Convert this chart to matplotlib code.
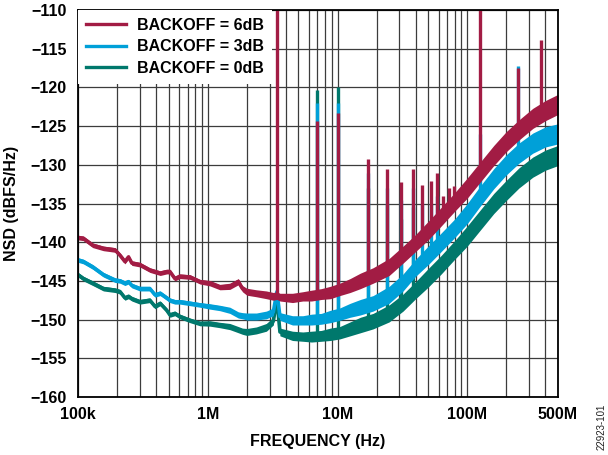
import numpy as np
import matplotlib.pyplot as plt

plt.rcParams['font.family'] = ['Liberation Sans', 'DejaVu Sans']
plt.rcParams['font.weight'] = 'bold'

# noise floor (Hz, dBFS/Hz)
freq = [100e3, 110e3, 130e3, 157e3, 193e3, 211e3, 230e3, 245e3, 260e3, 300e3,
        358e3, 392e3, 430e3, 483e3, 511e3, 558e3, 610e3, 730e3, 870e3, 1.04e6,
        1.24e6, 1.48e6, 1.72e6, 1.85e6, 2.0e6, 2.37e6, 2.83e6, 3.2e6, 3.41e6, 3.6e6,
        4.5e6, 5.4e6, 6.3e6, 7.5e6, 8.8e6, 10.4e6, 12.5e6, 15e6, 18.8e6, 25e6,
        32e6, 40e6, 50e6, 63e6, 80e6, 100e6, 125e6, 160e6, 200e6, 250e6,
        320e6, 400e6, 500e6]

nsd_6db = [-139.4, -139.5, -140.4, -140.8, -141.0, -141.7, -142.5, -141.9, -142.7, -142.9,
           -143.6, -143.8, -144.0, -143.8, -143.8, -144.7, -144.4, -144.5, -145.1, -145.3,
           -145.8, -145.7, -145.1, -146.0, -146.4, -146.6, -146.8, -147.0, -146.9, -147.1,
           -147.2, -147.0, -146.9, -146.7, -146.5, -146.1, -145.6, -145.0, -144.3, -143.2,
           -141.6, -140.1, -138.5, -136.7, -134.8, -133.0, -131.0, -128.8, -127.0, -125.5,
           -124.0, -123.0, -122.2]

nsd_3db = [-142.3, -142.5, -143.2, -144.2, -144.9, -145.0, -145.3, -145.1, -145.6, -146.0,
           -146.0, -146.8, -146.6, -147.2, -147.5, -147.7, -147.7, -147.9, -148.1, -148.3,
           -148.5, -148.8, -149.4, -149.5, -149.6, -149.6, -149.4, -149.0, -146.4, -149.6,
           -150.1, -150.1, -150.0, -149.9, -149.6, -149.3, -148.8, -148.4, -147.9, -146.8,
           -145.2, -143.3, -141.7, -140.0, -138.2, -136.3, -134.1, -131.8, -130.0, -128.5,
           -127.2, -126.4, -126.0]

nsd_0db = [-144.2, -144.7, -145.3, -146.0, -146.2, -146.4, -147.2, -147.0, -147.3, -147.7,
           -147.5, -148.3, -147.9, -148.8, -149.4, -149.2, -149.6, -150.1, -150.5, -150.5,
           -150.7, -150.9, -151.3, -151.5, -151.6, -151.4, -151.0, -150.2, -147.3, -151.6,
           -152.1, -152.2, -152.2, -152.1, -151.9, -151.7, -151.2, -150.7, -150.2, -149.2,
           -147.8, -146.2, -144.6, -142.9, -141.0, -139.2, -137.2, -135.0, -133.3, -131.7,
           -130.3, -129.4, -128.8]

# half height of the noise band around each trace (dB)
spread = [0.3, 0.3, 0.3, 0.3, 0.3, 0.3, 0.3, 0.3, 0.3, 0.3,
          0.3, 0.3, 0.3, 0.3, 0.3, 0.3, 0.3, 0.3, 0.3, 0.35,
          0.35, 0.4, 0.4, 0.4, 0.45, 0.45, 0.5, 0.5, 0.5, 0.5,
          0.6, 0.6, 0.7, 0.7, 0.8, 0.8, 0.9, 1.0, 1.0, 1.1,
          1.1, 1.1, 1.2, 1.2, 1.2, 1.3, 1.3, 1.3, 1.3, 1.3,
          1.3, 1.3, 1.3]

# spurs: frequency (Hz) and peak level for each backoff (nan = hidden)
spur_freq = [3.41e6, 6.9e6, 10.1e6, 17.2e6, 23.9e6, 30.8e6, 37.9e6, 44.4e6, 52.1e6,
             58.7e6, 65.3e6, 72e6, 78.8e6, 125e6, 247e6, 373e6]
spur_6db = [-100, -124.4, -123.3, -129.2, -130.6, -132.2, -130.6, -132.6, -132.1,
            -131.1, -134.0, -133.0, -132.7, -100, -117.5, -113.9]
spur_3db = [np.nan, -122.0, -122.0, -131.0, -133.0, -134.5, -133.0, -135.0, -135.0,
            -134.0, np.nan, np.nan, np.nan, -126.0, -117.2, np.nan]
spur_0db = [np.nan, -120.4, -120.0, -133.0, -135.0, -137.0, -135.5, np.nan, np.nan,
            np.nan, np.nan, np.nan, np.nan, np.nan, np.nan, np.nan]

labels = ['BACKOFF = 6dB', 'BACKOFF = 3dB', 'BACKOFF = 0dB']
colors = ['#A21C44', '#00A0D8', '#00786C']

fig = plt.figure(figsize=(6.08, 4.55), dpi=100)
ax = fig.add_axes([78 / 608, 1 - 397 / 455, 480 / 608, 387 / 455])

f = np.array(freq)
sp = np.array(spread)
series = [nsd_6db, nsd_3db, nsd_0db]
spurs = [spur_6db, spur_3db, spur_0db]

# draw 0dB first so 6dB ends up on top
handles = [None] * 3
for i in [2, 1, 0]:
    v = np.array(series[i])
    ax.fill_between(f, v - sp, v + sp, color=colors[i], lw=0, zorder=3)
    handles[i], = ax.plot(f, v, color=colors[i], lw=2.6, label=labels[i], zorder=3)
    peaks = np.array(spurs[i])
    ok = ~np.isnan(peaks)
    sf = np.array(spur_freq)[ok]
    base = np.interp(np.log10(sf), np.log10(f), v)
    ax.vlines(sf, base, peaks[ok], color=colors[i], lw=2.4, zorder=3)

ax.set_xscale('log')
ax.set_xlim(100e3, 500e6)
ax.set_ylim(-160, -110)

ax.set_xticks([100e3, 1e6, 10e6, 100e6, 500e6])
ax.set_xticklabels(['100k', '1M', '10M', '100M', '500M'])
ax.set_xticks([m * 10 ** d for d in range(5, 9) for m in range(2, 10) if m * 10 ** d < 500e6],
              minor=True)
ax.xaxis.set_minor_formatter(plt.NullFormatter())
yt = list(range(-160, -109, 5))
ax.set_yticks(yt)
ax.set_yticklabels(['\u2212%d' % -t for t in yt])

ax.grid(True, which='both', color='#3c3c3c', lw=0.9, zorder=1)
ax.tick_params(which='both', length=0, labelsize=11.5)
ax.tick_params(axis='x', pad=7)
ax.tick_params(axis='y', pad=8)
for s in ax.spines.values():
    s.set_linewidth(1.3)
    s.set_zorder(5)

ax.set_xlabel('FREQUENCY (Hz)', fontsize=11.5, fontweight='bold', labelpad=9)
ax.set_ylabel('NSD (dBFS/Hz)', fontsize=11.5, fontweight='bold', labelpad=8)

leg = ax.legend(handles=handles, loc='upper left', fontsize=11.5, frameon=True,
                fancybox=False, framealpha=1, edgecolor='none', borderaxespad=0,
                borderpad=0.5, handlelength=2.5, handletextpad=0.7, labelspacing=0.4)
leg.set_zorder(6)
for h in leg.get_lines():
    h.set_linewidth(2.4)

fig.text(0.99, 0.0615, '22923-101', rotation=90, fontsize=7, fontweight='normal',
         ha='center', va='center', color='#222222')

fig.savefig('out.png', dpi=100)
